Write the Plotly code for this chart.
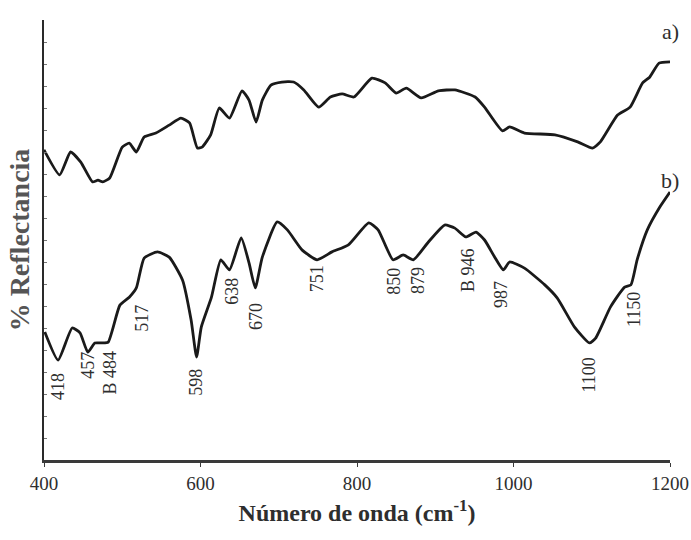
import plotly.graph_objects as go

# Curve a) (upper spectrum)
wn_a = [400, 420, 434, 447, 462, 469, 475, 484, 500, 509, 518, 528, 543, 560, 575, 586, 596, 602,
        613, 624, 637, 653, 662, 671, 679, 690, 704, 719, 732, 751, 766, 781, 796, 819, 836, 850,
        863, 882, 904, 925, 951, 963, 986, 995, 1014, 1053, 1082, 1101, 1111, 1133, 1149, 1165,
        1174, 1186, 1200]
refl_a = [70.5, 64.8, 70.0, 67.7, 63.2, 63.6, 63.2, 64.1, 71.1, 72.0, 70.0, 73.4, 74.3, 76.1, 77.7,
          76.6, 70.9, 71.1, 73.9, 80.0, 77.7, 83.9, 81.8, 76.8, 81.8, 85.2, 85.9, 85.9, 84.1, 80.2,
          82.5, 83.2, 82.5, 86.8, 85.7, 83.4, 84.5, 82.3, 83.9, 84.1, 82.5, 80.2, 74.8, 75.7, 74.3,
          73.9, 72.3, 70.9, 72.3, 78.4, 80.2, 85.7, 87.0, 90.2, 90.5]

# Curve b) (lower spectrum)
wn_b = [401, 418, 436, 446, 456, 465, 474, 482, 497, 509, 518, 528, 545, 560, 577, 588, 595, 601,
        614, 626, 637, 652, 662, 670, 679, 698, 711, 730, 749, 768, 789, 815, 827, 846, 859, 872,
        891, 912, 925, 939, 952, 963, 976, 987, 995, 1014, 1040, 1056, 1078, 1097, 1105, 1124,
        1142, 1150, 1158, 1171, 1187, 1200]
refl_b = [29.1, 22.7, 30.0, 28.9, 24.5, 26.6, 26.6, 26.8, 35.2, 37.0, 39.1, 45.9, 47.3, 46.1, 40.9,
          31.8, 23.4, 30.2, 37.0, 45.5, 43.2, 50.5, 44.8, 39.1, 46.1, 54.1, 52.3, 47.7, 45.5, 47.3,
          48.9, 53.9, 52.3, 45.5, 46.6, 45.5, 49.5, 53.4, 52.7, 50.7, 51.8, 50.0, 46.1, 43.2, 45.0,
          43.6, 39.8, 36.8, 30.2, 26.6, 27.7, 34.8, 39.3, 39.8, 45.5, 52.3, 57.5, 60.9]

# Band labels for curve b)
band_labels = ["418", "457", "B 484", "517", "598", "638", "670", "751", "850", "879",
               "B 946", "987", "1100", "1150"]
band_x = [418, 456, 484, 525, 595, 640, 671, 749, 847, 878, 942, 984, 1097, 1154]
band_y = [16.6, 21.6, 19.8, 32.3, 17.7, 38.4, 32.5, 41.1, 40.7, 40.7, 43.2, 37.7, 19.3, 34.1]

x_ticks = [400, 600, 800, 1000, 1200]

FONT = "Liberation Serif"
TXT = "#2e2e2e"

fig = go.Figure()
for xs, ys in [(wn_a, refl_a), (wn_b, refl_b)]:
    fig.add_trace(go.Scatter(x=xs, y=ys, mode="lines",
                             line=dict(color="#1a1a1a", width=2.8, shape="spline", smoothing=0.5),
                             showlegend=False, hoverinfo="skip"))

for lab, bx, by in zip(band_labels, band_x, band_y):
    fig.add_annotation(x=bx, y=by, text=lab, textangle=-90, showarrow=False,
                       font=dict(family=FONT, size=18, color=TXT))

fig.add_annotation(x=1200, y=97.5, text="a)", showarrow=False, xanchor="center",
                   font=dict(family=FONT, size=22, color=TXT))
fig.add_annotation(x=1200, y=63.6, text="b)", showarrow=False, xanchor="center",
                   font=dict(family=FONT, size=22, color=TXT))

fig.update_layout(
    width=691, height=540,
    margin=dict(l=44, r=21, t=20, b=80),
    plot_bgcolor="white", paper_bgcolor="white",
    font=dict(family=FONT, color=TXT),
    xaxis=dict(range=[400, 1200], tickvals=x_ticks, ticktext=[str(v) for v in x_ticks],
               automargin=False, ticklabeloverflow="allow",
               showgrid=False, zeroline=False, showline=True, linecolor="#3a3a3a", linewidth=3,
               ticks="outside", ticklen=4, tickcolor="#3a3a3a",
               tickfont=dict(family=FONT, size=19, color=TXT),
               title=dict(text="<b>Número de onda (cm<sup>-1</sup>)</b>",
                          font=dict(family=FONT, size=24, color=TXT), standoff=12)),
    yaxis=dict(range=[0, 100], automargin=False,
               showgrid=False, zeroline=False, showline=True,
               linecolor="#2a2a2a", linewidth=2, ticks="inside", ticklen=3, dtick=5,
               tickcolor="#777777", showticklabels=False,
               title=dict(text="<b>% Reflectancia</b>", font=dict(family=FONT, size=28, color="#555555"),
                          standoff=4)),
)

fig.write_html("out.html")
